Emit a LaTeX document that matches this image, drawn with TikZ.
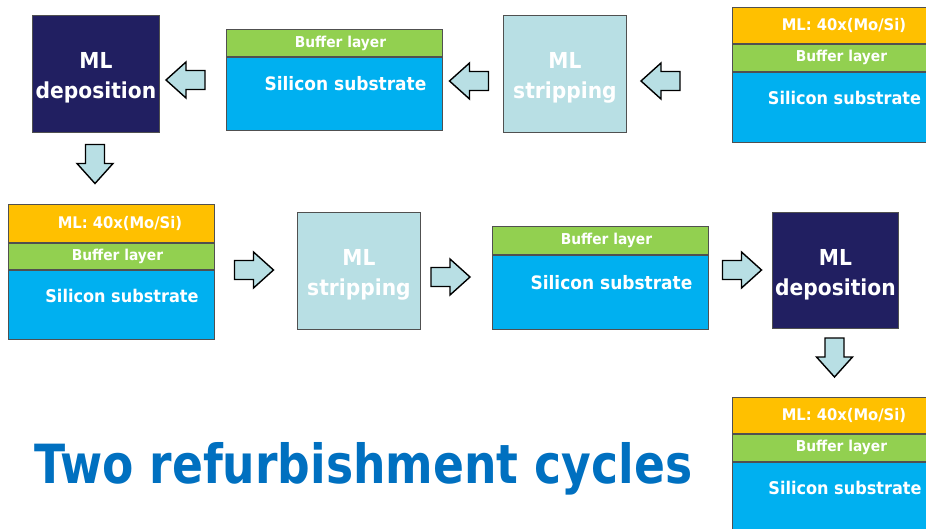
\documentclass[tikz,border=0pt]{standalone}
\usepackage{fontspec}
\newfontfamily\boxfont[FakeStretch=0.92]{DejaVu Sans}
\newfontfamily\titlefont[FakeStretch=0.845]{DejaVu Sans}
\usetikzlibrary{positioning}

\definecolor{mlnavy}{RGB}{33,31,97}
\definecolor{stripcyan}{RGB}{184,223,228}
\definecolor{mlorange}{RGB}{255,192,0}
\definecolor{bufgreen}{RGB}{146,208,80}
\definecolor{siblue}{RGB}{0,176,240}
\definecolor{titleblue}{RGB}{0,112,192}
\definecolor{edgegray}{RGB}{80,80,80}

\tikzset{
  procbox/.style={draw=edgegray,line width=0.9pt,inner sep=0pt,minimum height=117pt,text height=54pt,
    anchor=north west,text=white,align=center,font=\boxfont\bfseries\fontsize{22}{30}\selectfont},
  depbox/.style={procbox,fill=mlnavy,minimum width=127pt},
  stripbox/.style={procbox,fill=stripcyan,minimum width=123pt},
  layer/.style={draw=edgegray,line width=0.9pt,inner sep=0pt,text=white,
    font=\boxfont\bfseries\fontsize{15}{18}\selectfont,execute at begin node={\hspace*{12pt}}},
  mllayer/.style={layer,fill=mlorange,minimum height=37pt,
    font=\boxfont\bfseries\fontsize{16}{18}\selectfont,execute at begin node={\hspace*{5pt}}},
  buflayer/.style={layer,fill=bufgreen,minimum height=27pt},
  silayer/.style={layer,fill=siblue,minimum height=70pt},
  sitext/.style={text=white,inner sep=0pt,font=\boxfont\bfseries\fontsize{18.5}{22}\selectfont},
  sitextsm/.style={sitext,font=\boxfont\bfseries\fontsize{17.5}{22}\selectfont},
  barrow/.pic={
    \draw[fill=stripcyan,line width=1.4pt,line join=miter]
      (-19.5,-9.5)--(-0.5,-9.5)--(-0.5,-18)--(19.5,0)--(-0.5,18)--(-0.5,9.5)--(-19.5,9.5)--cycle;
  }
}

\begin{document}
\begin{tikzpicture}[x=1pt,y=-1pt]
\useasboundingbox (0,0) rectangle (926,529);

% first cycle
\node[depbox] (dep1) at (32,15) {ML\\deposition};
\node[buflayer,minimum width=216pt,anchor=north west] (buf1) at (226,29) {Buffer layer};
\node[silayer,minimum width=216pt,minimum height=73pt,below=0pt of buf1] (si1) {};
\node[sitext] at ([xshift=11pt,yshift=-27pt]si1.north) {Silicon substrate};
\node[stripbox] (strip1) at (503,15) {ML\\stripping};
\node[mllayer,minimum width=206pt,minimum height=36pt,anchor=north west] (ml2) at (732,7) {ML: 40x(Mo/Si)};
\node[buflayer,minimum width=206pt,below=0pt of ml2] (buf2) {Buffer layer};
\node[silayer,minimum width=206pt,below=0pt of buf2] (si2) {};
\node[sitextsm] at ([xshift=9pt,yshift=-26pt]si2.north) {Silicon substrate};

\pic[rotate=180] (a1) at (185.5,80) {barrow};
\pic[rotate=180] (a2) at (469,81) {barrow};
\pic[rotate=180] (a3) at (660.5,81) {barrow};
\pic[rotate=-90] (d1) at (95,164) {barrow};

% second cycle
\node[mllayer,minimum width=206pt,minimum height=38pt,anchor=north west] (ml3) at (8,204) {ML: 40x(Mo/Si)};
\node[buflayer,minimum width=206pt,minimum height=26pt,below=0pt of ml3] (buf3) {Buffer layer};
\node[silayer,minimum width=206pt,minimum height=69pt,below=0pt of buf3] (si3) {};
\node[sitextsm] at ([xshift=10.5pt,yshift=-26pt]si3.north) {Silicon substrate};
\node[stripbox] (strip2) at (297,212) {ML\\stripping};
\node[buflayer,minimum width=216pt,minimum height=28pt,anchor=north west] (buf4) at (492,226) {Buffer layer};
\node[silayer,minimum width=216pt,minimum height=74pt,below=0pt of buf4] (si4) {};
\node[sitext] at ([xshift=11pt,yshift=-28pt]si4.north) {Silicon substrate};
\node[depbox,minimum width=126pt,minimum height=116pt] (dep2) at (772,212) {ML\\deposition};

\pic (a4) at (254,270) {barrow};
\pic (a5) at (450.5,277) {barrow};
\pic (a6) at (742,270) {barrow};
\pic[rotate=-90] (d2) at (834.5,357.5) {barrow};

\node[mllayer,minimum width=206pt,minimum height=36pt,anchor=north west] (ml5) at (732,397) {ML: 40x(Mo/Si)};
\node[buflayer,minimum width=206pt,below=0pt of ml5] (buf5) {Buffer layer};
\node[silayer,minimum width=206pt,below=0pt of buf5] (si5) {};
\node[sitextsm] at ([xshift=9.5pt,yshift=-26pt]si5.north) {Silicon substrate};

\node[anchor=base west,inner sep=0pt,text=titleblue,font=\titlefont\bfseries\fontsize{54}{60}\selectfont]
  (title) at (34,483) {Two refurbishment cycles};
\end{tikzpicture}
\end{document}
